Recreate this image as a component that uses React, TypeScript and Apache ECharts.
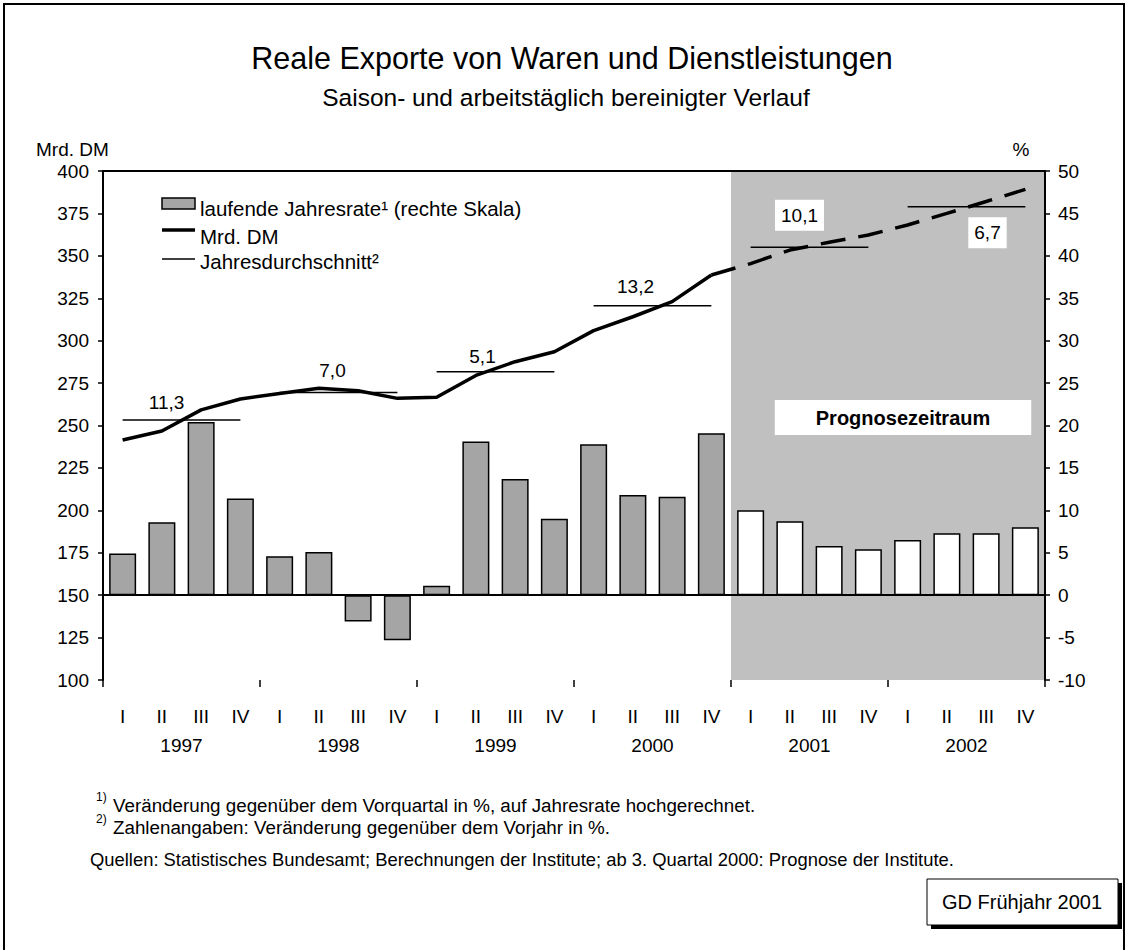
import React, { useEffect, useRef } from "react";
import * as echarts from "echarts";

// ---------- data ----------
const years = ["1997", "1998", "1999", "2000", "2001", "2002"];
const quarterNames = ["I", "II", "III", "IV"];
const quarters = years.flatMap((y) => quarterNames.map((q) => `${y} ${q}`));
// Mrd. DM (left scale)
const exportsMrdDM = [
  241.5, 246.8, 259.2, 265.6,
  268.9, 271.9, 270.5, 266.0,
  266.6, 279.5, 287.6, 293.5,
  305.9, 314.1, 323.0, 338.7,
  345.4, 353.4, 358.0, 362.3,
  368.2, 375.0, 382.0, 389.2,
];
// laufende Jahresrate in % (right scale)
const annualRate = [
  4.9, 8.6, 20.4, 11.4,
  4.6, 5.1, -3.1, -5.3,
  1.1, 18.1, 13.7, 9.0,
  17.8, 11.8, 11.6, 19.1,
  10.0, 8.7, 5.8, 5.4,
  6.5, 7.3, 7.3, 8.0,
];
// Jahresdurchschnitt (Mrd. DM) and change vs. previous year
const annualAverage = [253.3, 269.4, 281.7, 320.6, 355.0, 379.0];
const annualChange = ["11,3", "7,0", "5,1", "13,2", "10,1", "6,7"];
const lastActualIndex = 15; // 2000 IV
const forecastStartIndex = 16; // 2001 I
const leftAxis = { min: 100, max: 400, interval: 25 };
const rightAxis = { min: -10, max: 50, interval: 5 };

// ---------- style ----------
const FONT = "'Liberation Sans', Arial, Helvetica, sans-serif";
const labelOffsets: [number, number][] = [
  [-15, -17], [-6, -22], [-13, -15], [-17, -19], [-10, -32], [21, 26],
];
const boxedLabel = [false, false, false, false, true, true];

function buildOption(): any {
  const solid = exportsMrdDM.map((v, i) => (i <= lastActualIndex ? v : null));
  const dashed = exportsMrdDM.map((v, i) => (i >= lastActualIndex ? v : null));
  const barData = annualRate.map((v, i) => ({
    value: v,
    itemStyle: i >= forecastStartIndex ? { color: "#ffffff" } : { color: "#a5a5a5" },
  }));

  const avgSeries = annualAverage.map((avg, y) => ({
    type: "line",
    xAxisIndex: 2,
    yAxisIndex: 0,
    symbol: "none",
    silent: true,
    z: 3,
    lineStyle: { color: "#000", width: 1.5 },
    data: [
      [y * 4 + 0.5, avg],
      [y * 4 + 3.5, avg],
    ],
  }));

  const avgLabels = {
    type: "scatter",
    xAxisIndex: 2,
    yAxisIndex: 0,
    symbol: "circle",
    symbolSize: 0,
    silent: true,
    z: 6,
    itemStyle: { color: "#000", opacity: 1 },
    data: annualAverage.map((avg, y) => ({
      value: [y * 4 + 2, avg],
      label: {
        show: true,
        position: "inside",
        offset: labelOffsets[y],
        formatter: annualChange[y],
        fontSize: 19,
        fontFamily: FONT,
        color: "#000",
        opacity: 1,
        ...(boxedLabel[y]
          ? { backgroundColor: "#ffffff", padding: [6, 6, 6, 6] }
          : {}),
      },
    })),
  };

  const shade = {
    type: "line",
    xAxisIndex: 2,
    yAxisIndex: 0,
    symbol: "none",
    z: 1,
    data: [],
    markArea: {
      silent: true,
      itemStyle: { color: "#c0c0c0" },
      label: {
        show: true,
        position: "inside",
        offset: [15, -8],
        formatter: "Prognosezeitraum",
        fontSize: 20,
        fontWeight: "bold",
        fontFamily: FONT,
        color: "#000",
        backgroundColor: "#fff",
        padding: [8, 41, 7, 41],
      },
      data: [[{ xAxis: forecastStartIndex }, { xAxis: quarters.length }]],
    },
  };

  const axisLabelBase = { color: "#000", fontSize: 19, fontFamily: FONT };
  const txt = (text: string, x: number, y: number, fontSize: number, align = "left", extra: any = {}) => ({
    type: "text",
    x,
    y,
    z: 20,
    style: { text, fontSize, fontFamily: FONT, fill: "#000", align, verticalAlign: "middle", ...extra },
  });

  const graphic: any[] = [
    { type: "rect", shape: { x: 4, y: 4, width: 1120, height: 960 }, style: { fill: "none", stroke: "#000", lineWidth: 2 }, z: 100 },
    txt("Reale Exporte von Waren und Dienstleistungen", 572, 58, 30.5, "center"),
    txt("Saison- und arbeitstäglich bereinigter Verlauf", 566, 97, 24.5, "center"),
    txt("Mrd. DM", 36, 149, 19),
    txt("%", 1021, 149, 19, "center"),
    // legend
    { type: "rect", z: 20, shape: { x: 162, y: 198, width: 33, height: 11 }, style: { fill: "#a5a5a5", stroke: "#000", lineWidth: 1.5 } },
    txt("laufende Jahresrate¹ (rechte Skala)", 200, 208, 20.5),
    { type: "line", z: 20, shape: { x1: 162, y1: 230, x2: 195, y2: 230 }, style: { stroke: "#000", lineWidth: 3.5 } },
    txt("Mrd. DM", 200, 236, 20.5),
    { type: "line", z: 20, shape: { x1: 162, y1: 259, x2: 195, y2: 259 }, style: { stroke: "#000", lineWidth: 1.5 } },
    txt("Jahresdurchschnitt²", 200, 261, 20.5),
    // footnotes
    txt("1)", 96, 797, 12),
    txt("Veränderung gegenüber dem Vorquartal in %, auf Jahresrate hochgerechnet.", 113, 805, 18.8),
    txt("2)", 96, 819, 12),
    txt("Zahlenangaben: Veränderung gegenüber dem Vorjahr in %.", 113, 827, 18.8),
    txt("Quellen: Statistisches Bundesamt; Berechnungen der Institute; ab 3. Quartal 2000: Prognose der Institute.", 90, 859, 18.4),
    // GD box
    { type: "rect", z: 20, shape: { x: 931, y: 883, width: 191, height: 46 }, style: { fill: "#000" } },
    { type: "rect", z: 20, shape: { x: 927, y: 879, width: 191, height: 46 }, style: { fill: "#fff", stroke: "#000", lineWidth: 1 } },
    txt("GD Frühjahr 2001", 1022, 902, 20, "center"),
  ];

  return {
    animation: false,
    backgroundColor: "#fff",
    textStyle: { fontFamily: FONT },
    grid: { left: 103, right: 84, top: 171, bottom: 270, containLabel: false },
    xAxis: [
      {
        type: "category",
        data: quarters,
        position: "bottom",
        z: 10,
        axisLine: { show: true, lineStyle: { color: "#000", width: 2 } },
        axisTick: { show: false },
        axisLabel: {
          ...axisLabelBase,
          margin: 27,
          interval: 0,
          formatter: (v: string) => v.split(" ")[1],
        },
        splitLine: { show: false },
      },
      {
        type: "category",
        data: years,
        position: "bottom",
        z: 10,
        axisLine: { show: false },
        axisTick: { show: true, length: 7, lineStyle: { color: "#000", width: 1.5 } },
        axisLabel: { ...axisLabelBase, margin: 56, interval: 0 },
        splitLine: { show: false },
      },
      {
        type: "value",
        min: 0,
        max: quarters.length,
        position: "top",
        z: 10,
        axisLine: { show: true, lineStyle: { color: "#000", width: 2 } },
        axisTick: { show: false },
        axisLabel: { show: false },
        splitLine: { show: false },
      },
    ],
    yAxis: [
      {
        type: "value",
        position: "left",
        ...leftAxis,
        z: 10,
        axisLine: { show: true, lineStyle: { color: "#000", width: 2 } },
        axisTick: { show: true, length: 5, lineStyle: { color: "#000", width: 1.5 } },
        axisLabel: { ...axisLabelBase, margin: 14 },
        splitLine: { show: false },
      },
      {
        type: "value",
        position: "right",
        ...rightAxis,
        z: 10,
        axisLine: { show: true, lineStyle: { color: "#000", width: 2 } },
        axisTick: { show: true, length: 5, lineStyle: { color: "#000", width: 1.5 } },
        axisLabel: { ...axisLabelBase, margin: 13 },
        splitLine: { show: false },
      },
    ],
    series: [
      shade,
      {
        type: "bar",
        xAxisIndex: 0,
        yAxisIndex: 1,
        barWidth: 27,
        z: 2,
        silent: true,
        itemStyle: { borderColor: "#000", borderWidth: 1.5 },
        data: barData,
        markLine: {
          silent: true,
          symbol: "none",
          label: { show: false },
          lineStyle: { color: "#000", width: 1.5, type: "solid" },
          data: [{ yAxis: 0 }],
        },
      },
      ...avgSeries,
      {
        type: "line",
        xAxisIndex: 0,
        yAxisIndex: 0,
        symbol: "none",
        silent: true,
        z: 4,
        lineStyle: { color: "#000", width: 3.5 },
        data: solid,
      },
      {
        type: "line",
        xAxisIndex: 0,
        yAxisIndex: 0,
        symbol: "none",
        silent: true,
        z: 4,
        lineStyle: { color: "#000", width: 3.5, type: [25, 13] },
        data: dashed,
      },
      avgLabels,
    ],
    graphic,
  };
}

export default function App() {
  const ref = useRef<HTMLDivElement>(null);
  useEffect(() => {
    if (!ref.current) return;
    const chart = echarts.init(ref.current, undefined, { renderer: "svg" });
    chart.setOption(buildOption());
    return () => chart.dispose();
  }, []);
  return (
    <div
      ref={ref}
      style={{ position: "absolute", left: 0, top: 0, width: 1129, height: 950, background: "#fff" }}
    />
  );
}
